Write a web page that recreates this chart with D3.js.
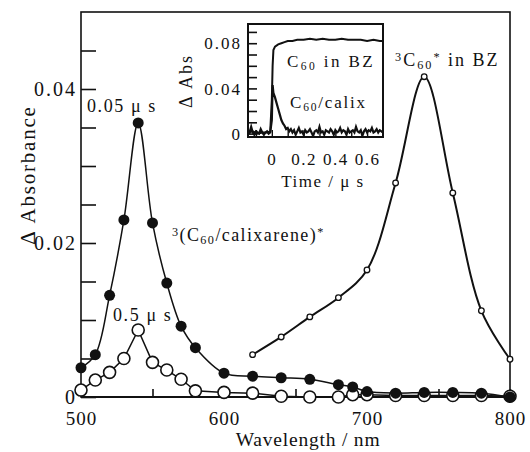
<!DOCTYPE html>
<html>
<head>
<meta charset="utf-8">
<script src="https://cdn.jsdelivr.net/npm/d3@7"></script>
<style>
  html, body { margin: 0; padding: 0; background: #fff; }
  svg { display: block; }
  text { font-family: "Liberation Serif", "Times New Roman", serif; fill: #111; }
</style>
</head>
<body>
<svg id="chart" width="530" height="452"></svg>
<script>
// ---------- Main chart data ----------
const wlFilled = [500,510,520,530,540,550,560,570,580,600,620,640,660,680,690,700,720,740,760,780,800];
const absFilled = [0.0038,0.0055,0.0132,0.0230,0.0356,0.0226,0.0148,0.0092,0.0064,0.0031,0.0027,0.0025,0.0023,0.0016,0.0013,0.0007,0.0005,0.0006,0.0006,0.0005,0.0000];

const wlOpen = [500,510,520,530,540,550,560,570,580,600,620,640,660,680,690,700,720,740,760,780,800];
const absOpen = [0.0009,0.0022,0.0032,0.0050,0.0087,0.0045,0.0035,0.0023,0.0008,0.0006,0.0005,0.0001,0.0000,0.0000,0.0003,0.0003,0.0002,0.0002,0.0002,0.0002,0.0001];

const wlBZ = [620,640,660,680,700,720,740,760,780,800];
const absBZ = [0.0055,0.0078,0.0104,0.0129,0.0165,0.0278,0.0416,0.0265,0.0112,0.0049];

const xTickValues = [500,550,600,650,700,750,800];
const xTickLabels = ["500","","600","","700","","800"];
const yTickValues = [0,0.005,0.01,0.015,0.02,0.025,0.03,0.035,0.04,0.045];
const yTickLabels = ["0","","","","0.02","","","","0.04",""];

// ---------- Inset data ----------
const timeBZ = [-0.15,-0.12,-0.09,-0.06,-0.03,-0.01,0,0.005,0.01,0.02,0.04,0.06,0.08,0.10,0.13,0.16,0.20,0.24,0.28,0.32,0.36,0.40,0.44,0.48,0.52,0.56,0.60,0.64,0.68,0.70];
const absInsetBZ = [0.001,0.002,0.000,0.001,0.001,0.002,0.030,0.060,0.074,0.077,0.079,0.080,0.081,0.082,0.082,0.083,0.083,0.084,0.083,0.084,0.083,0.083,0.084,0.083,0.083,0.083,0.082,0.083,0.082,0.082];

const timeCalix = [-0.15,-0.14,-0.13,-0.12,-0.11,-0.10,-0.09,-0.08,-0.07,-0.06,-0.05,-0.04,-0.03,-0.02,-0.01,
  0,0.005,0.01,0.02,0.03,0.04,0.05,0.06,0.07,0.08,0.09,0.10,
  0.11,0.12,0.13,0.14,0.15,0.16,0.17,0.18,0.19,0.20,
  0.21,0.22,0.23,0.24,0.25,0.26,0.27,0.28,0.29,0.30,
  0.31,0.32,0.33,0.34,0.35,0.36,0.37,0.38,0.39,0.40,
  0.41,0.42,0.43,0.44,0.45,0.46,0.47,0.48,0.49,0.50,
  0.51,0.52,0.53,0.54,0.55,0.56,0.57,0.58,0.59,0.60,
  0.61,0.62,0.63,0.64,0.65,0.66,0.67,0.68,0.69,0.70];
const absCalix = [0.003,0.001,0.006,0.001,-0.001,0.002,0.001,0.000,0.004,0.001,-0.001,0.001,0.002,0.000,0.001,
  0.012,0.043,0.036,0.032,0.027,0.022,0.017,0.012,0.009,0.007,0.004,0.005,
  0.002,0.004,0.001,0.003,-0.001,0.002,0.005,0.001,0.002,-0.001,
  0.003,0.001,0.002,0.004,0.001,-0.002,0.002,0.003,0.001,0.006,
  0.001,0.002,-0.001,0.003,0.002,0.001,0.004,0.002,-0.001,0.003,
  0.001,0.002,0.005,0.001,0.003,0.002,-0.001,0.004,0.001,0.002,
  0.003,0.001,0.006,0.002,0.001,0.003,-0.002,0.002,0.004,0.001,
  0.003,0.002,0.005,0.001,0.002,0.004,0.001,0.003,0.002,0.001];

const insetYTicks = [0,0.01,0.02,0.03,0.04,0.05,0.06,0.07,0.08,0.09];
const insetYLabels = ["0","","","","0.04","","","","0.08",""];
const insetXTicks = [-0.1,0,0.1,0.2,0.3,0.4,0.5,0.6];
const insetXLabels = ["","0","","0.2","","0.4","","0.6"];

// ---------- Drawing ----------
const svg = d3.select("#chart");
const ink = "#111";
const serif = '"Liberation Serif", "Times New Roman", serif';

const x = d3.scaleLinear().domain([500, 800]).range([81, 510]);
const y = d3.scaleLinear().domain([0, 0.05]).range([397, 12]);

// frame
svg.append("rect").attr("x", x(500)).attr("y", y(0.05))
  .attr("width", x(800) - x(500)).attr("height", y(0) - y(0.05))
  .attr("fill", "none").attr("stroke", ink).attr("stroke-width", 1.6);

function styleAxis(g, size, ls) {
  g.attr("font-family", serif).attr("font-size", size);
  g.select(".domain").remove();
  g.selectAll("line").attr("stroke", ink).attr("stroke-width", 1.6);
  g.selectAll("text").attr("font-family", serif).style("font-family", serif)
    .style("font-size", size + "px").style("letter-spacing", ls + "px").attr("fill", ink);
}

// y axis
const yAxis = d3.axisLeft(y).tickValues(yTickValues).tickSize(-15).tickPadding(4)
  .tickFormat((d, i) => yTickLabels[i]);
const gy = svg.append("g").attr("transform", `translate(${x(500)},0)`).call(yAxis);
styleAxis(gy, 20, 2);
gy.selectAll("text").attr("dy", "0.34em");

// x axis
const xAxis = d3.axisBottom(x).tickValues(xTickValues).tickSize(-8).tickPadding(15)
  .tickFormat((d, i) => xTickLabels[i]);
const gx = svg.append("g").attr("transform", `translate(0,${y(0)})`).call(xAxis);
styleAxis(gx, 19, 1);
svg.append("line").attr("x1", x(500)).attr("x2", x(800)).attr("y1", y(0)).attr("y2", y(0))
  .attr("stroke", ink).attr("stroke-width", 2.2);

// axis titles
svg.append("text").attr("x", 308).attr("y", 446).attr("text-anchor", "middle")
  .style("font-size", "19.5px").style("letter-spacing", "0.8px").text("Wavelength / nm");
svg.append("text").attr("transform", "translate(35,175) rotate(-90)").attr("text-anchor", "middle")
  .style("font-size", "21px").style("letter-spacing", "1.8px").text("Δ Absorbance");

// series
const lineOpen = d3.line().x((d, i) => x(wlOpen[i])).y(d => y(d));
svg.append("path").attr("d", lineOpen(absOpen)).attr("fill", "none").attr("stroke", ink).attr("stroke-width", 1.5);
svg.append("g").selectAll("circle").data(absOpen).join("circle")
  .attr("cx", (d, i) => x(wlOpen[i])).attr("cy", d => y(d)).attr("r", 6)
  .attr("fill", "#fff").attr("stroke", ink).attr("stroke-width", 1.6);

const lineFilled = d3.line().x((d, i) => x(wlFilled[i])).y(d => y(d)).curve(d3.curveCatmullRom.alpha(0.5));
svg.append("path").attr("d", lineFilled(absFilled)).attr("fill", "none").attr("stroke", ink).attr("stroke-width", 1.5);
svg.append("g").selectAll("circle").data(absFilled).join("circle")
  .attr("cx", (d, i) => x(wlFilled[i])).attr("cy", d => y(d)).attr("r", 5.5)
  .attr("fill", ink);

const lineBZ = d3.line().x((d, i) => x(wlBZ[i])).y(d => y(d)).curve(d3.curveCatmullRom.alpha(0.5));
svg.append("path").attr("d", lineBZ(absBZ)).attr("fill", "none").attr("stroke", ink).attr("stroke-width", 2);
svg.append("g").selectAll("circle").data(absBZ).join("circle")
  .attr("cx", (d, i) => x(wlBZ[i])).attr("cy", d => y(d)).attr("r", 2.8)
  .attr("fill", "#fff").attr("stroke", ink).attr("stroke-width", 1.3);

// annotations
function label(xp, yp, size, ls, parts) {
  const t = svg.append("text").attr("x", xp).attr("y", yp).style("font-size", size + "px").style("letter-spacing", ls + "px");
  parts.forEach(p => {
    const s = t.append("tspan").text(p.t);
    if (p.sub) s.style("font-size", (size * 0.68) + "px").attr("baseline-shift", "-25%");
    if (p.sup) s.style("font-size", (size * 0.68) + "px").attr("baseline-shift", "45%");
  });
  return t;
}
label(87, 112, 18, 1.6, [{t: "0.05 μ s"}]);
label(113, 321, 18, 1.6, [{t: "0.5 μ s"}]);
label(172, 241, 18, 1.4, [{t: "3", sup: true}, {t: "(C"}, {t: "60", sub: true}, {t: "/calixarene)"}, {t: "*", sup: true}]);
label(395, 66, 18, 2, [{t: "3", sup: true}, {t: "C"}, {t: "60", sub: true}, {t: "*", sup: true}, {t: " in BZ"}]);

// ---------- Inset ----------
const xi = d3.scaleLinear().domain([-0.15, 0.7]).range([248, 383]);
const yi = d3.scaleLinear().domain([-0.003, 0.097]).range([137, 24]);

svg.append("rect").attr("x", xi(-0.15)).attr("y", yi(0.097))
  .attr("width", xi(0.7) - xi(-0.15)).attr("height", yi(-0.003) - yi(0.097))
  .attr("fill", "#fff").attr("stroke", ink).attr("stroke-width", 2);

svg.append("clipPath").attr("id", "insetClip").append("rect")
  .attr("x", xi(-0.15)).attr("y", yi(0.097))
  .attr("width", xi(0.7) - xi(-0.15)).attr("height", yi(-0.003) - yi(0.097));

const giy = svg.append("g").attr("transform", `translate(${xi(-0.15)},0)`)
  .call(d3.axisLeft(yi).tickValues(insetYTicks).tickSize(-9).tickPadding(6).tickFormat((d, i) => insetYLabels[i]));
styleAxis(giy, 17, 2);
giy.selectAll("text").attr("dy", "0.34em");

const gix = svg.append("g").attr("transform", `translate(0,${yi(-0.003)})`)
  .call(d3.axisBottom(xi).tickValues(insetXTicks).tickSize(-7).tickPadding(16).tickFormat((d, i) => insetXLabels[i]));
styleAxis(gix, 17, 1.5);
gix.selectAll("line").attr("stroke-width", 1.4);

const insetG = svg.append("g").attr("clip-path", "url(#insetClip)");
const lineCalix = d3.line().x((d, i) => xi(timeCalix[i])).y(d => yi(d));
insetG.append("path").attr("d", lineCalix(absCalix)).attr("fill", "none").attr("stroke", ink).attr("stroke-width", 2.2);
const lineIBZ = d3.line().x((d, i) => xi(timeBZ[i])).y(d => yi(d));
insetG.append("path").attr("d", lineIBZ(absInsetBZ)).attr("fill", "none").attr("stroke", ink).attr("stroke-width", 2);

svg.append("text").attr("x", 323).attr("y", 187).attr("text-anchor", "middle")
  .style("font-size", "17px").style("letter-spacing", "1.5px").text("Time / μ s");
svg.append("text").attr("transform", "translate(192,81) rotate(-90)").attr("text-anchor", "middle")
  .style("font-size", "18px").style("letter-spacing", "2px").text("Δ Abs");

label(287, 67, 17, 2.4, [{t: "C"}, {t: "60", sub: true}, {t: " in BZ"}]);
label(290, 108, 17, 1.8, [{t: "C"}, {t: "60", sub: true}, {t: "/calix"}]);
</script>
</body>
</html>
